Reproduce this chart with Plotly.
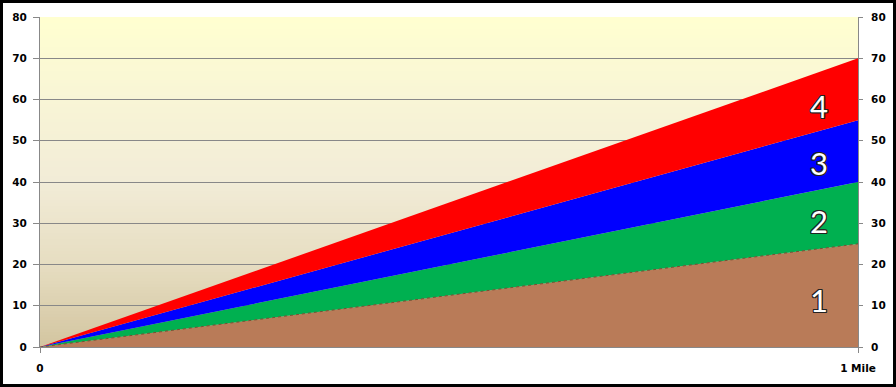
import plotly.graph_objects as go

# ---- data ----
x_vals = [0, 1]
x_ticktext = ["0", "1 Mile"]
series_names = ["1", "2", "3", "4"]
layer1 = [0, 25]
layer2 = [0, 15]
layer3 = [0, 15]
layer4 = [0, 15]
y_ticks = [0, 10, 20, 30, 40, 50, 60, 70, 80]
label_y = [11.5, 30.5, 44.5, 58.5]
label_x = 0.952

colors = ["#B97B58", "#00B050", "#0000FF", "#FF0000"]

fig = go.Figure()

layers = [layer1, layer2, layer3, layer4]
for i, (name, vals) in enumerate(zip(series_names, layers)):
    line = dict(width=0, color=colors[i])
    if i == 0:
        line = dict(width=1, color="#7A4E33", dash="dot")
    fig.add_trace(go.Scatter(
        x=x_vals, y=vals, name=name, stackgroup="one", mode="lines",
        line=line, fillcolor=colors[i], hoverinfo="skip", showlegend=False,
    ))

# dummy trace for the right axis
fig.add_trace(go.Scatter(x=[0], y=[0], yaxis="y2", mode="markers",
                         marker=dict(opacity=0), hoverinfo="skip", showlegend=False))

# background vertical gradient (drawn below gridlines)
stops = [(0.0, (211, 197, 160)), (0.25, (230, 221, 193)), (0.5, (242, 236, 215)),
         (0.75, (248, 245, 214)), (1.0, (255, 255, 208))]

def interp(t):
    for (t0, c0), (t1, c1) in zip(stops[:-1], stops[1:]):
        if t0 <= t <= t1:
            f = (t - t0) / (t1 - t0)
            return tuple(round(a + (b - a) * f) for a, b in zip(c0, c1))
    return stops[-1][1]

shapes = []
n = 110
for k in range(n):
    y0 = k / n
    y1 = (k + 1) / n
    c = interp((y0 + y1) / 2)
    shapes.append(dict(type="rect", xref="paper", yref="paper", x0=0, x1=1,
                       y0=y0, y1=min(1, y1 + 0.002), layer="below",
                       line=dict(width=0), fillcolor="rgb(%d,%d,%d)" % c))

# outer black border
W, H = 896, 387
l, r, t, b = 40, 38, 17, 40
pw, ph = W - l - r, H - t - b
shapes.append(dict(type="rect", xref="paper", yref="paper",
                   x0=(1.5 - l) / pw, x1=(W - 1.5 - l) / pw,
                   y0=(ph + t - (H - 1.5)) / ph,
                   y1=(ph + t - 1.5) / ph,
                   line=dict(color="black", width=3), layer="above"))

annotations = []
for name, yy in zip(series_names, label_y):
    annotations.append(dict(
        x=label_x, y=yy, xref="x", yref="y", text=name, showarrow=False,
        font=dict(family="Lato, Open Sans, sans-serif", size=31, color="white",
                  shadow="1px 1px 0 #222, -1px -1px 0 #222, 1px -1px 0 #222, -1px 1px 0 #222, 0 1px 0 #222, 0 -1px 0 #222, 1px 0 0 #222, -1px 0 0 #222"),
    ))

tickfont = dict(family="DejaVu Sans, sans-serif", size=10.5, color="black", weight="bold")

fig.update_layout(
    width=W, height=H,
    margin=dict(l=l, r=r, t=t, b=b, pad=0, autoexpand=False),
    paper_bgcolor="white", plot_bgcolor="white",
    shapes=shapes, annotations=annotations,
    xaxis=dict(range=[0, 1], tickvals=x_vals, ticktext=x_ticktext, showgrid=False,
               zeroline=False, showline=True, linecolor="#888888", linewidth=1,
               ticks="outside", ticklen=5, tickcolor="#888888", tickfont=tickfont,
               ticklabelstandoff=6, fixedrange=True, automargin=False),
    yaxis=dict(range=[0, 80], tickvals=y_ticks, showgrid=True, gridcolor="#888888",
               gridwidth=1, zeroline=False, showline=True, linecolor="#888888",
               ticks="outside", ticklen=6, tickcolor="#888888", tickfont=tickfont,
               ticklabelstandoff=4, fixedrange=True, automargin=False),
    yaxis2=dict(range=[0, 80], tickvals=y_ticks, overlaying="y", side="right",
                showgrid=False, zeroline=False, showline=True, linecolor="#888888",
                ticks="outside", ticklen=4, tickcolor="#888888", tickfont=tickfont,
                ticklabelstandoff=6, fixedrange=True, automargin=False),
    showlegend=False,
)

fig.write_html("out.html")
